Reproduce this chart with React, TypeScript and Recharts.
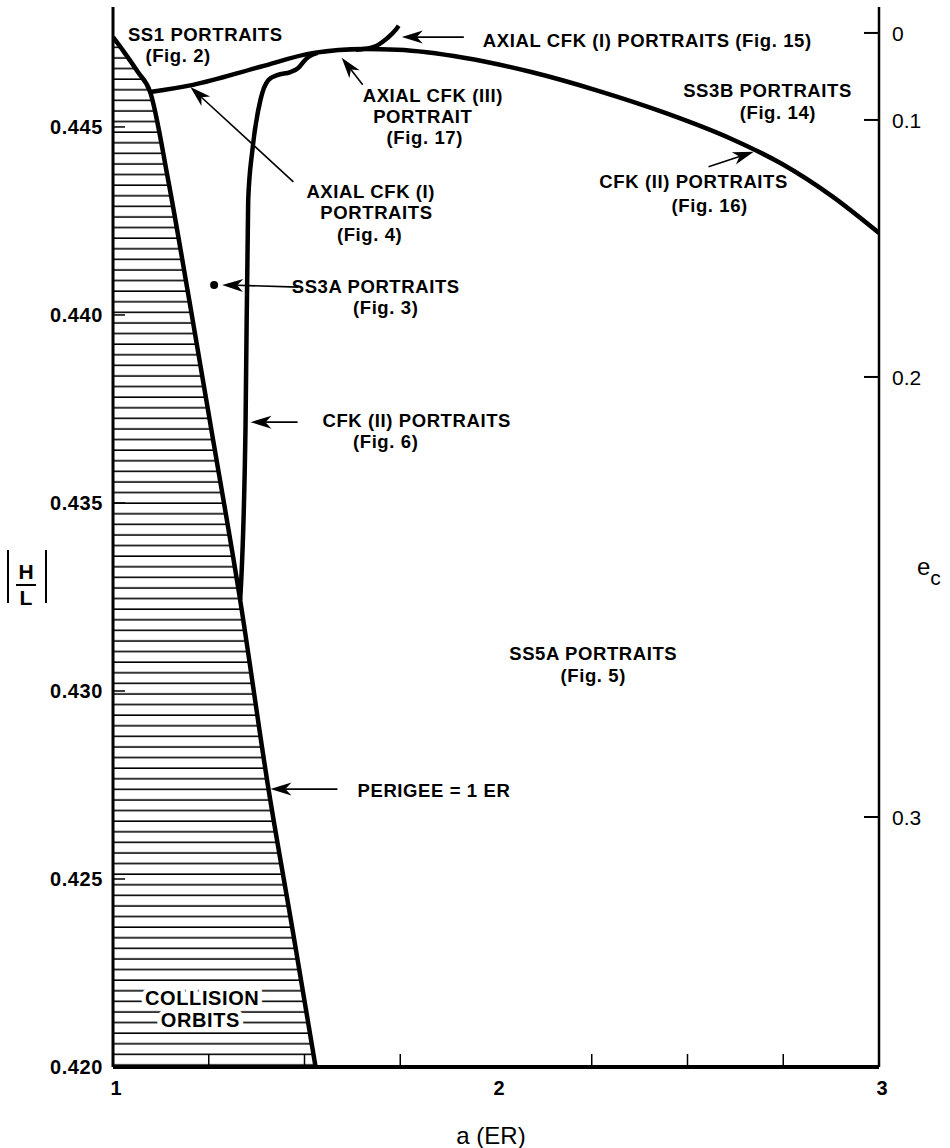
import React from 'react';
import { ComposedChart, Line, Area, XAxis, YAxis, ReferenceLine, ReferenceDot, Label } from 'recharts';

// perigee = 1 ER boundary, edge of the collision region
const perigeeA = [1.0, 1.029, 1.065, 1.097, 1.144, 1.199, 1.257, 1.332, 1.406, 1.469, 1.529];
const perigeeH = [0.44739, 0.44699, 0.44646, 0.44593, 0.44359, 0.4404, 0.43694, 0.43242, 0.42739, 0.42364, 0.42];

// upper boundary: SS1 / axial CFK (I) line and the CFK (II) arc towards a = 3
const upperA = [1.097, 1.209, 1.385, 1.524, 1.654, 1.743, 1.916, 2.092, 2.267, 2.44, 2.615, 2.746, 2.877, 3.0];
const upperH = [0.44593, 0.44612, 0.4466, 0.44697, 0.44707, 0.44705, 0.44684, 0.44646, 0.44596, 0.44538, 0.44468, 0.44402, 0.44316, 0.44218];

// CFK (II) line rising from the cusp on the perigee curve
const cfkA = [1.332, 1.346, 1.353, 1.364, 1.385, 1.406, 1.429, 1.463, 1.484, 1.497, 1.51, 1.534];
const cfkH = [0.43242, 0.43702, 0.44306, 0.44439, 0.44572, 0.44625, 0.44638, 0.44646, 0.44657, 0.44673, 0.44686, 0.44697];

// axial CFK (I) branch (Fig. 15)
const branchA = [1.634, 1.681, 1.717, 1.738, 1.746];
const branchH = [0.44705, 0.44713, 0.44737, 0.44758, 0.44769];

// SS3A portrait point
const ss3a = { a: 1.264, h: 0.4408 };

const xTicks = [1, 1.25, 1.5, 1.75, 2, 2.25, 2.5, 2.75, 3];
const xLabels = ['1', '', '', '', '2', '', '', '', '3'];
const hlTicks = [0.42, 0.425, 0.43, 0.435, 0.44, 0.445];
const ecTicks = [0.4475, 0.445186, 0.438351, 0.426649];
const ecLabels = ['0', '0.1', '0.2', '0.3'];

const zip = (as: number[], hs: number[]) => as.map((a, i) => ({ a, h: hs[i] }));
const perigee = zip(perigeeA, perigeeH);
const upper = zip(upperA, upperH);
const cfk = zip(cfkA, cfkH);
const branch = zip(branchA, branchH);

// text annotations (data coords, centre of line, baseline)
const notes = [
  { t: 'SS1 PORTRAITS', a: 1.241, h: 0.44729 },
  { t: '(Fig. 2)', a: 1.17, h: 0.44673 },
  { t: 'AXIAL CFK (I) PORTRAITS (Fig. 15)', a: 2.395, h: 0.44713 },
  { t: 'AXIAL CFK (III)', a: 1.835, h: 0.44566 },
  { t: 'PORTRAIT', a: 1.809, h: 0.44511 },
  { t: '(Fig. 17)', a: 1.814, h: 0.44454 },
  { t: 'SS3B PORTRAITS', a: 2.709, h: 0.4458 },
  { t: '(Fig. 14)', a: 2.736, h: 0.44522 },
  { t: 'CFK (II) PORTRAITS', a: 2.516, h: 0.44338 },
  { t: '(Fig. 16)', a: 2.558, h: 0.44274 },
  { t: 'AXIAL CFK (I)', a: 1.673, h: 0.44311 },
  { t: 'PORTRAITS', a: 1.688, h: 0.44255 },
  { t: '(Fig. 4)', a: 1.67, h: 0.44198 },
  { t: 'SS3A PORTRAITS', a: 1.686, h: 0.44059 },
  { t: '(Fig. 3)', a: 1.712, h: 0.44003 },
  { t: 'CFK (II) PORTRAITS', a: 1.793, h: 0.43702 },
  { t: '(Fig. 6)', a: 1.712, h: 0.43646 },
  { t: 'SS5A PORTRAITS', a: 2.254, h: 0.43082 },
  { t: '(Fig. 5)', a: 2.254, h: 0.43025 },
  { t: 'PERIGEE = 1 ER', a: 1.838, h: 0.42718 },
];
const collisionNotes = [
  { t: 'COLLISION', a: 1.233, h: 0.42165 },
  { t: 'ORBITS', a: 1.228, h: 0.42106 },
];

// arrows: tail -> tip
const arrows = [
  [1.916, 0.44739, 1.754, 0.44739],
  [1.652, 0.44612, 1.597, 0.44684],
  [2.555, 0.44394, 2.673, 0.44434],
  [1.471, 0.44354, 1.202, 0.44606],
  [1.484, 0.44074, 1.285, 0.4408],
  [1.482, 0.43715, 1.359, 0.43715],
  [1.586, 0.42739, 1.411, 0.42739],
];

const FONT = '"Liberation Sans", Arial, sans-serif';

const Arrow = (p: any) => {
  const { x1, y1, x2, y2 } = p;
  const dx = x2 - x1, dy = y2 - y1;
  const len = Math.hypot(dx, dy) || 1;
  const ux = dx / len, uy = dy / len;
  const px = -uy, py = ux;
  const hl = 21, hw = 6.5, notch = 15;
  const bx = x2 - ux * hl, by = y2 - uy * hl;
  const nx = x2 - ux * notch, ny = y2 - uy * notch;
  return (
    <g>
      <line x1={x1} y1={y1} x2={nx} y2={ny} stroke="#000" strokeWidth={1.6} />
      <polygon points={`${x2},${y2} ${bx + px * hw},${by + py * hw} ${nx},${ny} ${bx - px * hw},${by - py * hw}`} fill="#000" />
    </g>
  );
};

const noteShape = (t: string, halo: boolean) => (p: any) => (
  <text x={p.cx} y={p.cy} textAnchor="middle" fontFamily={FONT} fontWeight="bold" fontSize={halo ? 20 : 18.5}
    letterSpacing={0.6} fill="#000"
    stroke={halo ? '#fff' : 'none'} strokeWidth={halo ? 9 : 0} paintOrder="stroke" strokeLinejoin="round">
    {t}
  </text>
);

const XTick = (p: any) => {
  const i = xTicks.indexOf(p.payload.value);
  const len = i % 4 === 0 ? 0 : 13;
  return (
    <g>
      {len > 0 && <line x1={p.x} x2={p.x} y1={p.y} y2={p.y - len} stroke="#000" strokeWidth={1.5} />}
      <text x={p.x + 3} y={p.y + 28} textAnchor="middle" fontFamily={FONT} fontWeight="bold" fontSize={20}>{xLabels[i]}</text>
    </g>
  );
};

const HLTick = (p: any) => (
  <g>
    <line x1={p.x} x2={p.x + 12} y1={p.y} y2={p.y} stroke="#000" strokeWidth={1.5} />
    <text x={p.x - 10} y={p.y + 7} textAnchor="end" fontFamily={FONT} fontWeight="bold" fontSize={20} letterSpacing={0.6}>
      {p.payload.value.toFixed(3)}
    </text>
  </g>
);

const ECTick = (p: any) => {
  const i = ecTicks.indexOf(p.payload.value);
  return (
    <g>
      <line x1={p.x - 15} x2={p.x} y1={p.y} y2={p.y} stroke="#000" strokeWidth={2} />
      <text x={p.x + 13} y={p.y + 8} fontFamily={FONT} fontSize={21}>{ecLabels[i]}</text>
    </g>
  );
};

const HLLabel = (p: any) => {
  const vb = p.viewBox;
  const cy = vb.y + 568;
  return (
    <g>
      <line x1={8} x2={8} y1={cy - 25} y2={cy + 28} stroke="#000" strokeWidth={2} />
      <line x1={46} x2={46} y1={cy - 25} y2={cy + 28} stroke="#000" strokeWidth={2} />
      <text x={26} y={cy + 4} textAnchor="middle" fontFamily={FONT} fontWeight="bold" fontSize={21}>H</text>
      <line x1={16} x2={36} y1={cy + 10} y2={cy + 10} stroke="#000" strokeWidth={2} />
      <text x={26} y={cy + 30} textAnchor="middle" fontFamily={FONT} fontWeight="bold" fontSize={21}>L</text>
    </g>
  );
};

const ECLabel = (p: any) => {
  const vb = p.viewBox;
  return (
    <text x={vb.x + 38} y={vb.y + 568} fontFamily={FONT} fontSize={24}>
      e<tspan dy={10} fontSize={21}>c</tspan>
    </text>
  );
};

const XLabel = (p: any) => {
  const vb = p.viewBox;
  return (
    <text x={vb.x + 378} y={vb.y + 77} textAnchor="middle" fontFamily={FONT} fontSize={24}>a (ER)</text>
  );
};

export default function App() {
  return (
    <div style={{ position: 'absolute', left: 0, top: 0, background: '#fff', fontFamily: FONT }}>
      <ComposedChart width={950} height={1148} margin={{ top: 7, right: 0, bottom: 0, left: 0 }}>
        <defs>
          <pattern id="hatch" patternUnits="userSpaceOnUse" width={12} height={10.6}>
            <line x1={0} x2={12} y1={5} y2={5} stroke="#000" strokeWidth={1.6} />
          </pattern>
        </defs>
        <XAxis dataKey="a" type="number" domain={[1, 3]} ticks={xTicks} interval={0} allowDataOverflow
          height={81} tickSize={0} tickMargin={0} tickLine={false} tick={<XTick />}
          axisLine={{ stroke: '#000', strokeWidth: 4 }}>
          <Label content={<XLabel />} />
        </XAxis>
        <XAxis xAxisId="top" orientation="top" type="number" domain={[1, 3]} height={0} tick={false} tickLine={false}
          axisLine={{ stroke: '#000', strokeWidth: 3 }} />
        <YAxis yAxisId="left" type="number" domain={[0.42, 0.44819]} allowDataOverflow ticks={hlTicks} interval={0}
          width={113} tickSize={0} tickMargin={0} tickLine={false} tick={<HLTick />}
          axisLine={{ stroke: '#000', strokeWidth: 3 }}>
          <Label content={<HLLabel />} />
        </YAxis>
        <YAxis yAxisId="right" orientation="right" type="number" domain={[0.42, 0.44819]} allowDataOverflow ticks={ecTicks}
          interval={0} width={71} tickSize={0} tickMargin={0} tickLine={false} tick={<ECTick />}
          axisLine={{ stroke: '#000', strokeWidth: 2.5 }}>
          <Label content={<ECLabel />} />
        </YAxis>

        <Area yAxisId="left" data={perigee} dataKey="h" type="monotone" fill="url(#hatch)" fillOpacity={1}
          stroke="none" isAnimationActive={false} />
        {collisionNotes.map((n) => (
          <ReferenceDot key={n.t} yAxisId="left" x={n.a} y={n.h} r={0} shape={noteShape(n.t, true)} />
        ))}
        <Line yAxisId="left" data={perigee} dataKey="h" type="monotone" stroke="#000" strokeWidth={4.5} dot={false} isAnimationActive={false} />
        <Line yAxisId="left" data={upper} dataKey="h" type="monotone" stroke="#000" strokeWidth={4.5} dot={false} isAnimationActive={false} />
        <Line yAxisId="left" data={cfk} dataKey="h" type="monotone" stroke="#000" strokeWidth={4.5} dot={false} isAnimationActive={false} />
        <Line yAxisId="left" data={branch} dataKey="h" type="monotone" stroke="#000" strokeWidth={4.5} dot={false} isAnimationActive={false} />

        <ReferenceDot yAxisId="left" x={ss3a.a} y={ss3a.h} r={4} fill="#000" stroke="none" />
        {arrows.map((s, i) => (
          <ReferenceLine key={i} yAxisId="left" ifOverflow="visible"
            segment={[{ x: s[0], y: s[1] }, { x: s[2], y: s[3] }]} shape={Arrow} />
        ))}
        {notes.map((n, i) => (
          <ReferenceDot key={i} yAxisId="left" x={n.a} y={n.h} r={0} ifOverflow="visible" shape={noteShape(n.t, false)} />
        ))}
      </ComposedChart>
    </div>
  );
}
